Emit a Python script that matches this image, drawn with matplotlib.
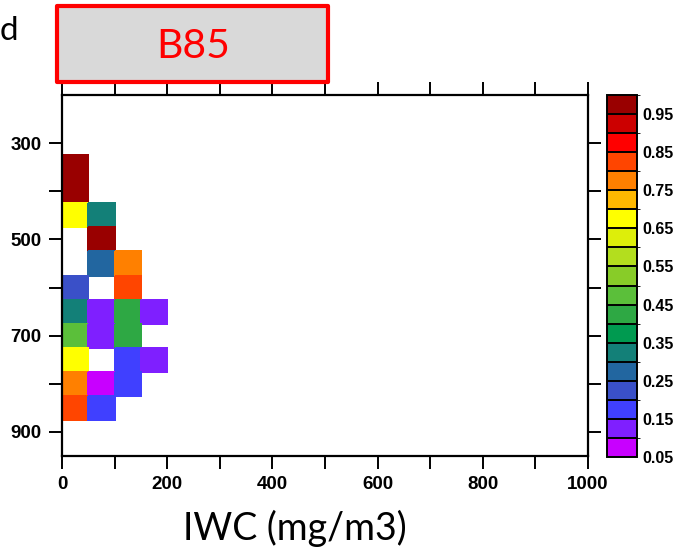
import numpy as np
import matplotlib
matplotlib.use("Agg")
import matplotlib.pyplot as plt
from matplotlib.colors import ListedColormap, BoundaryNorm
from matplotlib.patches import Rectangle

# bin edges: IWC (mg/m3) on x, level on y
iwc_edges = [0, 50, 100, 150, 200]
lev_edges = [325, 375, 425, 475, 525, 575, 625, 675, 725, 775, 825, 875]

# fraction per bin, one list per IWC column, rows from 350 down to 850 (nan = no data)
col_0_50 = [0.975, 0.975, 0.675, np.nan, np.nan, 0.225, 0.325, 0.475, 0.675, 0.775, 0.825]
col_50_100 = [np.nan, np.nan, 0.325, 0.975, 0.275, np.nan, 0.125, 0.125, np.nan, 0.075, 0.175]
col_100_150 = [np.nan, np.nan, np.nan, np.nan, 0.775, 0.825, 0.425, 0.425, 0.175, 0.175, np.nan]
col_150_200 = [np.nan, np.nan, np.nan, np.nan, np.nan, np.nan, 0.125, np.nan, 0.125, np.nan, np.nan]

levels = np.round(np.arange(0.05, 1.0001, 0.05), 2)
cbar_ticks = [0.05, 0.15, 0.25, 0.35, 0.45, 0.55, 0.65, 0.75, 0.85, 0.95]
colors = ["#C800FF", "#7F1FFF", "#4040FF", "#3A50C8", "#2266A0", "#138078",
          "#009A50", "#2EA844", "#5BBF3A", "#88CC28", "#B3DE1E", "#DDEE0A",
          "#FFFF00", "#FFB800", "#FF8000", "#FF4500", "#FF0000", "#CC0000",
          "#990000"]

cmap = ListedColormap(colors)
norm = BoundaryNorm(levels, cmap.N)

grid = np.ma.masked_invalid(np.array([col_0_50, col_50_100, col_100_150, col_150_200]).T)

fig = plt.figure(figsize=(6.79, 5.51), dpi=100)
ax = fig.add_axes([62/679, 95/551, 526/679, 361/551])
cax = fig.add_axes([607/679, 94/551, 30/679, 362/551])

mesh = ax.pcolormesh(iwc_edges, lev_edges, grid, cmap=cmap, norm=norm,
                     edgecolors="face", linewidth=0.3)

ax.set_xlim(0, 1000)
ax.set_ylim(950, 200)
ax.set_xticks(np.arange(0, 1001, 200))
ax.set_xticks(np.arange(100, 1000, 200), minor=True)
ax.set_yticks([300, 500, 700, 900])
ax.set_yticks([400, 600, 800], minor=True)
tick_font = dict(family="Liberation Sans", weight="bold", size=13.5)
ax.set_xticklabels([str(v) for v in range(0, 1001, 200)], fontdict=tick_font)
ax.set_yticklabels(["300", "500", "700", "900"], fontdict=tick_font)
ax.tick_params(which="both", direction="out", length=9.5, width=1.4,
               top=True, right=True, pad=5)
for sp in ax.spines.values():
    sp.set_linewidth(1.6)

fig.text(295/679, (551-528)/551, "IWC (mg/m3)", family="Lato", fontsize=27,
         ha="center", va="center")

# label bar
cb = fig.colorbar(mesh, cax=cax, ticks=cbar_ticks, drawedges=True)
cb.outline.set_linewidth(1.4)
cb.dividers.set_linewidth(1.4)
cb.ax.tick_params(length=0, pad=4)
cb.ax.set_yticklabels([f"{t:.2f}" for t in cbar_ticks],
                      fontdict=dict(family="Liberation Sans", weight="bold", size=11.5))

# case tag above the plot
fig.patches.append(Rectangle((57/679, (551-82)/551), 271/679, 76/551,
                             transform=fig.transFigure, facecolor="#D9D9D9",
                             edgecolor="#FF0000", linewidth=3, joinstyle="round"))
fig.text(193/679, (551-46)/551, "B85", color="#FF0000", family="Lato",
         fontsize=29.5, ha="center", va="center")
fig.text(0/679, (551-31)/551, "d", color="black", family="Lato",
         fontsize=24, ha="left", va="center")

fig.savefig("out.png", dpi=100)
